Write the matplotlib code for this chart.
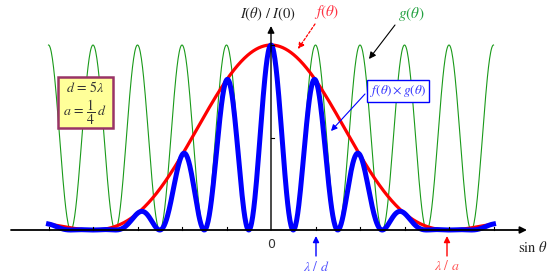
import numpy as np
import matplotlib
matplotlib.use("Agg")
import matplotlib.pyplot as plt
from matplotlib.patches import Rectangle

plt.rcParams['mathtext.fontset'] = 'stix'
plt.rcParams['font.family'] = ['Liberation Serif', 'DejaVu Serif']

# ---- data / parameters (from the chart text) ----
d_over_lambda = 5.0          # d = 5 lambda
a_over_d = 0.25              # a = d / 4
sin_theta = np.linspace(-1.0, 1.0, 801)
tick_positions = [-1.0, -0.8, -0.6, -0.4, -0.2, 0.2, 0.4, 0.6, 0.8, 1.0]
ytick_positions = [0.5, 1.0]

a_over_lambda = d_over_lambda * a_over_d
f_env = np.sinc(a_over_lambda * sin_theta) ** 2          # f(theta)
g_int = np.cos(np.pi * d_over_lambda * sin_theta) ** 2   # g(theta)
prod = f_env * g_int

W, H = 551, 278
fig = plt.figure(figsize=(W / 100, H / 100), dpi=100)
ax = fig.add_axes([0, 0, 1, 1])
x0, sx = 271.0, 222.5
y0, sy = 230.0, 185.0
ax.set_xlim((0 - x0) / sx, (W - x0) / sx)
ax.set_ylim((y0 - H) / sy, y0 / sy)
ax.axis('off')

def P(px, py):
    return ((px - x0) / sx, (y0 - py) / sy)

# curves
ax.plot(sin_theta, g_int, color='#1a9a1a', lw=0.8, zorder=2)
ax.plot(sin_theta, f_env, color='#ff0000', lw=2.3, zorder=3)
ax.plot(sin_theta, prod, color='#0000ff', lw=3.6, zorder=4, solid_joinstyle='round')

# axes
ax.annotate('', xy=P(527, 230), xytext=P(11, 230),
            arrowprops=dict(arrowstyle='-|>', color='black', lw=1.3,
                            mutation_scale=10, shrinkA=0, shrinkB=0), zorder=5)
ax.annotate('', xy=P(271, 26), xytext=P(271, 230),
            arrowprops=dict(arrowstyle='-|>', color='black', lw=1.0,
                            mutation_scale=10, shrinkA=0, shrinkB=0), zorder=5)
for t in tick_positions:
    ax.plot([t, t], [0, 3 / sy], color='black', lw=0.8, zorder=5)
for t in ytick_positions:
    ax.plot([0, 3 / sx], [t, t], color='black', lw=0.8, zorder=5)

# labels
ax.text(*P(268, 14), r'$I(\theta)\ /\ I(0)$', ha='center', va='center', fontsize=10.5, color='#222222')
ax.text(*P(271, 244), '0', ha='center', va='center', fontsize=9, color='#333333', family='DejaVu Sans')
ax.text(*P(533, 248), r'$\sin\,\theta$', ha='center', va='center', fontsize=10.5, color='#222222')

# f(theta) label and arrow
ax.text(*P(327, 12), r'$f(\theta)$', ha='center', va='center', fontsize=11, color='#ff3344')
ax.annotate('', xy=P(298, 49), xytext=P(315, 24),
            arrowprops=dict(arrowstyle='-|>', color='#ff0000', lw=0.9, ls=(0, (2, 1.5)),
                            mutation_scale=9, shrinkA=0, shrinkB=0), zorder=6)
# g(theta)
ax.text(*P(411, 14), r'$g(\theta)$', ha='center', va='center', fontsize=11, color='#22a040')
ax.annotate('', xy=P(369, 59), xytext=P(395, 25),
            arrowprops=dict(arrowstyle='-|>', color='black', lw=0.8,
                            mutation_scale=10, shrinkA=0, shrinkB=0), zorder=6)
# product label box
ax.text(*P(398, 91), r'$f(\theta)\times g(\theta)$', ha='center', va='center', fontsize=9.5,
        color='#3333ff', zorder=7,
        bbox=dict(boxstyle='square,pad=0.2', fc='white', ec='#0000ff', lw=1.0))
ax.annotate('', xy=P(331, 131), xytext=P(365, 94),
            arrowprops=dict(arrowstyle='-|>', color='#0000ff', lw=0.8,
                            mutation_scale=9, shrinkA=0, shrinkB=0), zorder=6)

# yellow parameter box
(bx0, by0), (bx1, by1) = P(58, 128), P(113, 77)
ax.add_patch(Rectangle((bx0, by0), bx1 - bx0, by1 - by0, fc='#ffff99', ec='#993366',
                       lw=1.8, zorder=7))
ax.text(*P(85, 87), r'$d\,=\,5\lambda$', ha='center', va='center', fontsize=10,
        color='#333333', zorder=8)
ax.text(*P(85, 112), r'$a\,=\,\dfrac{1}{4}\,d$', ha='center', va='center', fontsize=10,
        color='#333333', zorder=8)

# lambda/d and lambda/a markers
ax.annotate('', xy=P(316, 236), xytext=P(316, 256),
            arrowprops=dict(arrowstyle='-|>', color='#0000ff', lw=1.0,
                            mutation_scale=9, shrinkA=0, shrinkB=0))
ax.text(*P(316, 267), r'$\lambda\ /\ d$', ha='center', va='center', fontsize=10, color='#5555ff')
ax.annotate('', xy=P(447, 236), xytext=P(447, 256),
            arrowprops=dict(arrowstyle='-|>', color='#ff0000', lw=1.0,
                            mutation_scale=9, shrinkA=0, shrinkB=0))
ax.text(*P(447, 266), r'$\lambda\ /\ a$', ha='center', va='center', fontsize=10, color='#ff5555')

fig.savefig('out.png', dpi=100)
